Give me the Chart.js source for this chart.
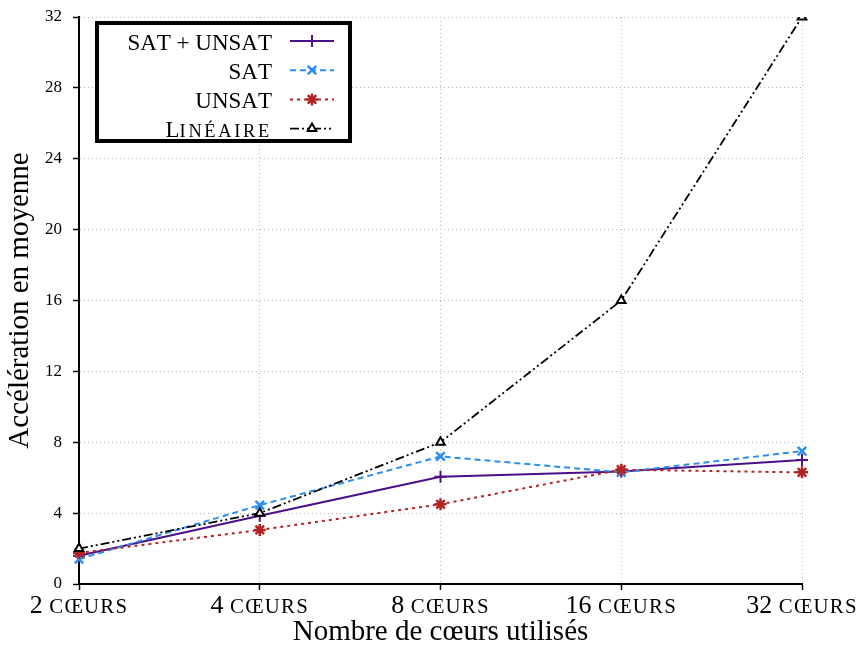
<!DOCTYPE html>
<html>
<head>
<meta charset="utf-8">
<script src="https://cdn.jsdelivr.net/npm/chart.js@4/dist/chart.umd.min.js"></script>
<style>
  html, body { margin: 0; padding: 0; background: #fff; }
  #wrap { width: 862px; height: 646px; position: relative; }
</style>
</head>
<body>
<div id="wrap"><canvas id="speedupChart"></canvas></div>
<script>
// données
const coeurs = ['2 cœurs', '4 cœurs', '8 cœurs', '16 cœurs', '32 cœurs'];
const satUnsat = [1.6, 3.85, 6.05, 6.35, 7.0];
const sat = [1.4, 4.45, 7.2, 6.3, 7.5];
const unsat = [1.75, 3.05, 4.5, 6.45, 6.3];
const lineaire = [2, 4, 8, 16, 32];
const yTicks = [0, 4, 8, 12, 16, 20, 24, 28, 32];

const serif = "'Liberation Serif', 'DejaVu Serif', serif";

// petites capitales façon LaTeX : minuscules -> majuscules réduites
function smallCaps(ctx, text, x, y, size, ratio, spacing, align) {
  const parts = [...text].map(ch => {
    const low = ch !== ch.toUpperCase();
    const s = low ? size * ratio : size;
    ctx.font = s + 'px ' + serif;
    const c = low ? ch.toUpperCase() : ch;
    return { c, s, w: ctx.measureText(c).width + (low ? spacing : 0) };
  });
  const total = parts.reduce((a, p) => a + p.w, 0);
  let cx = align === 'right' ? x - total : align === 'center' ? x - total / 2 : x;
  ctx.textAlign = 'left';
  ctx.textBaseline = 'alphabetic';
  parts.forEach(p => {
    ctx.font = p.s + 'px ' + serif;
    ctx.fillText(p.c, cx, y);
    cx += p.w;
  });
}

// légende encadrée + étiquettes de l'axe x en petites capitales
const texts = {
  id: 'texts',
  afterDraw(chart) {
    const ctx = chart.ctx;
    const xs = chart.scales.x;
    ctx.save();
    ctx.fillStyle = '#000';
    chart.data.labels.forEach((lab, i) => {
      smallCaps(ctx, lab, xs.getPixelForValue(i), 613, 26, 0.8, 1.2, 'center');
    });

    const x0 = 97, y0 = 23, w = 253, h = 118;
    ctx.fillStyle = '#fff';
    ctx.fillRect(x0, y0, w, h);
    ctx.lineWidth = 4;
    ctx.strokeStyle = '#000';
    ctx.strokeRect(x0, y0, w, h);
    chart.data.datasets.forEach((ds, i) => {
      const y = 41 + i * 29.2;
      ctx.fillStyle = '#000';
      smallCaps(ctx, ds.label, 272, y + 8.5, 23, 0.8, 2.7, 'right');
      ctx.save();
      ctx.strokeStyle = ds.borderColor;
      ctx.lineWidth = ds.borderWidth;
      ctx.setLineDash(ds.borderDash || []);
      ctx.beginPath();
      ctx.moveTo(290, y);
      ctx.lineTo(334, y);
      ctx.stroke();
      ctx.restore();
      ctx.save();
      ctx.strokeStyle = ds.pointBorderColor;
      ctx.fillStyle = ds.pointBackgroundColor;
      ctx.lineWidth = ds.pointBorderWidth;
      Chart.helpers.drawPoint(ctx, { pointStyle: ds.pointStyle, radius: ds.pointRadius, borderWidth: ds.pointBorderWidth, rotation: 0 }, 312, y);
      ctx.restore();
    });
    ctx.restore();
  }
};

const data = {
  labels: coeurs,
  datasets: [
    {
      label: 'SAT + UNSAT',
      data: satUnsat,
      borderColor: '#4b0f8c',
      borderWidth: 2,
      borderDash: [],
      pointStyle: 'cross',
      pointRadius: 6,
      pointBorderWidth: 2,
      pointBorderColor: '#4b0f8c',
      pointBackgroundColor: '#4b0f8c',
      order: 3
    },
    {
      label: 'SAT',
      data: sat,
      borderColor: '#2b8ff0',
      borderWidth: 2,
      borderDash: [6, 4],
      pointStyle: 'crossRot',
      pointRadius: 6,
      pointBorderWidth: 2.5,
      pointBorderColor: '#2b8ff0',
      pointBackgroundColor: '#2b8ff0',
      order: 2
    },
    {
      label: 'UNSAT',
      data: unsat,
      borderColor: '#b22424',
      borderWidth: 2,
      borderDash: [3, 4],
      pointStyle: 'star',
      pointRadius: 6,
      pointBorderWidth: 2.5,
      pointBorderColor: '#b22424',
      pointBackgroundColor: '#b22424',
      order: 1
    },
    {
      label: 'Linéaire',
      data: lineaire,
      borderColor: '#000',
      borderWidth: 1.8,
      borderDash: [9, 3, 2, 3, 2, 3],
      pointStyle: 'triangle',
      pointRadius: 5,
      pointBorderWidth: 2,
      pointBorderColor: '#000',
      pointBackgroundColor: '#fff',
      order: 0
    }
  ]
};

new Chart(document.getElementById('speedupChart'), {
  type: 'line',
  data,
  plugins: [texts],
  options: {
    responsive: true,
    maintainAspectRatio: false,
    animation: false,
    devicePixelRatio: 1,
    layout: { padding: { top: 17, right: 60, bottom: 0, left: 0 } },
    elements: { line: { tension: 0, fill: false } },
    plugins: {
      legend: { display: false },
      tooltip: { enabled: false }
    },
    scales: {
      x: {
        offset: false,
        afterFit: s => { s.height = 62; s.paddingLeft = 0; s.paddingRight = 0; },
        grid: {
          color: '#b8b8b8',
          lineWidth: 1,
          tickLength: 6,
          tickColor: '#000',
          tickWidth: 1.5
        },
        border: { color: '#000', width: 2, dash: [1, 3] },
        ticks: { display: false },
        title: {
          display: true,
          text: 'Nombre de cœurs utilisés',
          color: '#000',
          padding: { top: 0, bottom: -4 },
          font: { family: serif, size: 29 }
        }
      },
      y: {
        min: 0,
        max: 32,
        afterFit: s => { s.width = 79; s.paddingTop = 0; s.paddingBottom = 0; },
        afterBuildTicks: s => { s.ticks = yTicks.map(v => ({ value: v })); },
        grid: {
          color: '#b8b8b8',
          lineWidth: 1,
          tickLength: 6,
          tickColor: '#000',
          tickWidth: 1.5
        },
        border: { color: '#000', width: 2, dash: [1, 3] },
        ticks: {
          color: '#000',
          padding: 11,
          font: { family: serif, size: 17 }
        },
        title: {
          display: true,
          text: 'Accélération en moyenne',
          color: '#000',
          padding: { top: 3, bottom: 0 },
          font: { family: serif, size: 29 }
        }
      }
    }
  }
});
</script>
</body>
</html>
